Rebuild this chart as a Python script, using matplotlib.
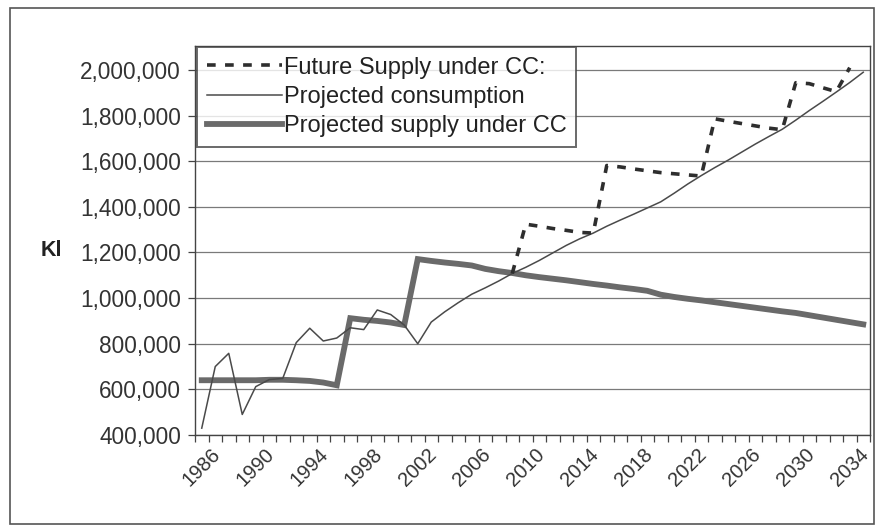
import numpy as np
import matplotlib
matplotlib.use("Agg")
import matplotlib.pyplot as plt
from matplotlib.patches import Rectangle
from matplotlib.ticker import FuncFormatter, FixedLocator

plt.rcParams['font.family'] = ['Liberation Sans', 'DejaVu Sans']

years = list(range(1986, 2036))

# Projected consumption (Kl)
consumption = [430000, 700000, 758000, 490000, 612000, 643000, 648000, 805000, 868000, 812000,
               825000, 870000, 862000, 948000, 928000, 882000, 800000, 895000, 940000, 980000,
               1017000, 1045000, 1075000, 1108000, 1135000, 1165000, 1198000, 1231000, 1260000, 1285000,
               1315000, 1342000, 1368000, 1395000, 1422000, 1460000, 1500000, 1537000, 1572000, 1605000,
               1640000, 1675000, 1708000, 1740000, 1780000, 1822000, 1862000, 1903000, 1945000, 1990000]

# Projected supply under CC (Kl)
supply_cc = [640000, 640000, 640000, 640000, 640000, 642000, 642000, 640000, 637000, 630000,
             618000, 912000, 905000, 900000, 893000, 882000, 1171000, 1163000, 1156000, 1150000,
             1143000, 1128000, 1118000, 1110000, 1100000, 1092000, 1085000, 1078000, 1070000, 1062000,
             1055000, 1047000, 1040000, 1032000, 1015000, 1005000, 997000, 990000, 982000, 974000,
             966000, 958000, 950000, 942000, 935000, 925000, 915000, 905000, 895000, 885000]

# Future supply under CC (augmented), starts 2009
future_years = list(range(2009, 2035))
future_supply = [1108000, 1324000, 1315000, 1305000, 1297000, 1288000, 1285000, 1581000, 1575000, 1566000,
                 1558000, 1550000, 1545000, 1540000, 1535000, 1786000, 1775000, 1765000, 1755000, 1745000,
                 1738000, 1944000, 1940000, 1922000, 1905000, 2010000]

y_ticks = [400000, 600000, 800000, 1000000, 1200000, 1400000, 1600000, 1800000, 2000000]
x_labels = list(range(1986, 2035, 4))

fig = plt.figure(figsize=(8.79, 5.31), dpi=100)
ax = fig.add_axes([195 / 879, 1 - 435 / 531, 675 / 879, 389 / 531])

ax.plot(future_years, future_supply, color="#2e2e2e", lw=2.6, dashes=(2.4, 2.6),
        label="Future Supply under CC:", zorder=4)
ax.plot(years, consumption, color="#4a4a4a", lw=1.1, label="Projected consumption", zorder=3)
ax.plot(years, supply_cc, color="#6a6a6a", lw=4.2, label="Projected supply under CC",
        solid_joinstyle="miter", zorder=2)

ax.set_xlim(1985.5, 2035.5)
ax.set_ylim(400000, 2105000)
ax.yaxis.set_major_locator(FixedLocator(y_ticks))
ax.yaxis.set_major_formatter(FuncFormatter(lambda v, p: f"{int(v):,}"))
ax.grid(axis="y", color="#7a7a7a", lw=0.9)
ax.set_axisbelow(True)

ax.set_xticks(x_labels)
ax.set_xticklabels([str(y) for y in x_labels], rotation=45, ha="center", va="top",
                   fontsize=14.5, color="#333333")
ax.tick_params(axis="x", which="major", length=0, pad=7)
ax.set_xticks(np.arange(1985.5, 2036, 1), minor=True)
ax.tick_params(axis="x", which="minor", length=5, width=0.9, color="#444444", direction="out")
ax.tick_params(axis="y", length=5, width=0.9, color="#444444", labelsize=16.3,
               labelcolor="#333333", pad=5)

for side in ["left", "bottom", "right", "top"]:
    ax.spines[side].set_color("#444444")
    ax.spines[side].set_linewidth(1.0)

fig.text(51 / 879, 1 - 250 / 531, "Kl", fontsize=15.5, fontweight="bold", color="#222222",
         ha="center", va="center")

leg = ax.legend(loc="upper left", bbox_to_anchor=(0.003, 0.998), fontsize=17, frameon=True,
                fancybox=False, handlelength=3.2, handletextpad=0.05, borderpad=0.42,
                labelspacing=0.3, borderaxespad=0.0)
leg.get_frame().set_edgecolor("#444444")
leg.get_frame().set_linewidth(1.4)
for t in leg.get_texts():
    t.set_color("#222222")

fig.patches.append(Rectangle((10 / 879, 1 - 524 / 531), 864 / 879, 516 / 531,
                             transform=fig.transFigure, fill=False, edgecolor="#555555", lw=1.2))

fig.savefig("out.png", dpi=100)
